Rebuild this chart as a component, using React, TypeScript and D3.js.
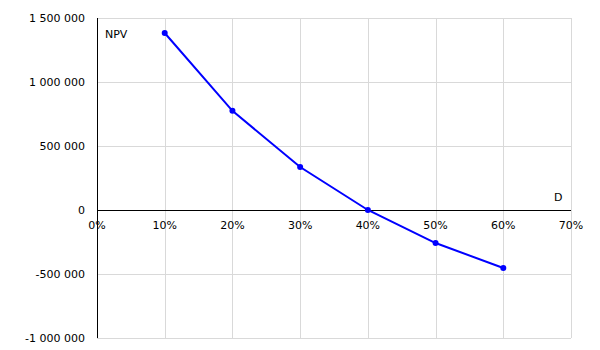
import React from "react";
import * as d3 from "d3";

const rates = [0.1, 0.2, 0.3, 0.4, 0.5, 0.6];
const npv = [1383000, 775000, 336000, 0, -258000, -453000];
const xTicks = [0, 0.1, 0.2, 0.3, 0.4, 0.5, 0.6, 0.7];
const yTicks = [-1000000, -500000, 0, 500000, 1000000, 1500000];

const W = 600, H = 350;
const left = 97, right = 571, top = 18, bottom = 338;

const fmt = (v: number) => {
  const s = Math.abs(v).toString().replace(/\B(?=(\d{3})+(?!\d))/g, " ");
  return (v < 0 ? "-" : "") + s;
};

export default function App() {
  const x = d3.scaleLinear().domain([0, 0.7]).range([left, right]);
  const y = d3.scaleLinear().domain([-1000000, 1500000]).range([bottom, top]);
  const line = d3.line<number>().x((_, i) => x(rates[i])).y((d) => y(d));
  const font = "DejaVu Sans, Verdana, sans-serif";
  return (
    <svg width={W} height={H} style={{ position: "absolute", left: 0, top: 0 }} fontFamily={font} fontSize={11}>
      <rect width={W} height={H} fill="#fff" />
      {yTicks.map((t) => (
        <line key={"gy" + t} x1={left} x2={right} y1={Math.round(y(t)) + 0.5} y2={Math.round(y(t)) + 0.5} stroke="#d9d9d9" />
      ))}
      {xTicks.map((t) => (
        <line key={"gx" + t} x1={Math.round(x(t)) + 0.5} x2={Math.round(x(t)) + 0.5} y1={top} y2={bottom} stroke="#d9d9d9" />
      ))}
      <line x1={left + 0.5} x2={left + 0.5} y1={top} y2={bottom} stroke="#000" />
      <line x1={left} x2={right} y1={Math.round(y(0)) + 0.5} y2={Math.round(y(0)) + 0.5} stroke="#000" />
      {yTicks.map((t) => (
        <text key={"ly" + t} x={85} y={y(t)} dy="0.35em" textAnchor="end" fill="#000">{fmt(t)}</text>
      ))}
      {xTicks.map((t) => (
        <text key={"lx" + t} x={x(t)} y={y(0) + 15} dy="0.35em" textAnchor="middle" fill="#000">{Math.round(t * 100) + "%"}</text>
      ))}
      <text x={105} y={34} dy="0.35em" fill="#000">NPV</text>
      <text x={554} y={197} dy="0.35em" fill="#000">D</text>
      <path d={line(npv) || ""} fill="none" stroke="#0000ff" strokeWidth={2} />
      {npv.map((v, i) => (
        <circle key={"c" + i} cx={x(rates[i])} cy={y(v)} r={3} fill="#0000ff" />
      ))}
    </svg>
  );
}
